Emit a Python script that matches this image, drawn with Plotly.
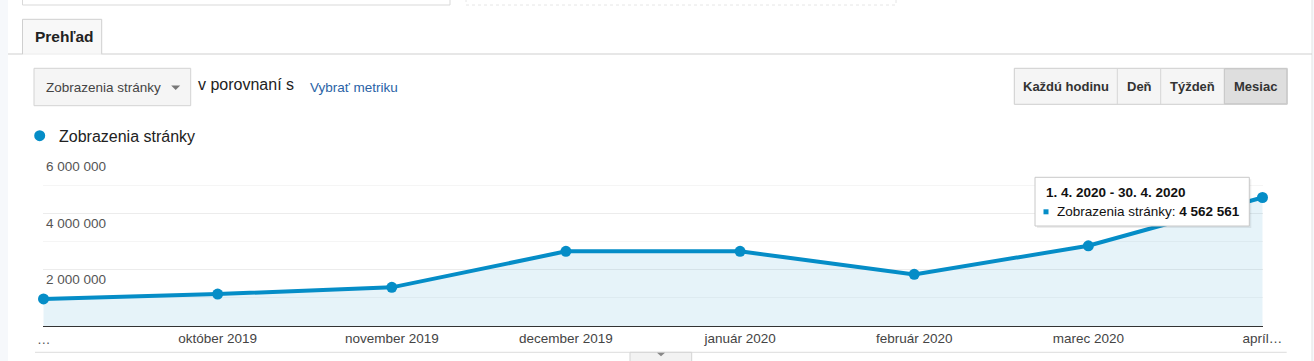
import plotly.graph_objects as go

# ---------------- data ----------------
months = ["september 2019", "október 2019", "november 2019", "december 2019",
          "január 2020", "február 2020", "marec 2020", "apríl 2020"]
month_labels = ["…", "október 2019", "november 2019", "december 2019",
                "január 2020", "február 2020", "marec 2020", "apríl…"]
pageviews = [960000, 1135000, 1372000, 2650000, 2652000, 1833000, 2848000, 4562561]
y_ticks = [2000000, 4000000, 6000000]
series_name = "Zobrazenia stránky"
tooltip_range = "1. 4. 2020 - 30. 4. 2020"

# ---------------- layout geometry (pixels) ----------------
W, H = 1314, 361
L, R, T, B = 43, 1263, 157, 326
BLUE = "#058DC7"
FONT = "Liberation Sans, Arial, sans-serif"
PAD = 0.003  # tiny category padding so edge tick labels are kept


def X(p):
    return (p - L) / (R - L)


def Y(p):
    return (B - p) / (B - T)


fig = go.Figure()
fig.add_trace(go.Scatter(
    x=months, y=pageviews, mode="lines+markers",
    line=dict(color=BLUE, width=4),
    marker=dict(color=BLUE, size=11),
    fill="tozeroy", fillcolor="rgba(5,141,199,0.10)",
    cliponaxis=False, showlegend=False, hoverinfo="skip",
))

shapes = []
annotations = []


def rect(x0, y0, x1, y1, fill="white", line="#ccc", width=1, dash="solid", layer="below"):
    shapes.append(dict(type="rect", xref="paper", yref="paper",
                       x0=X(x0), x1=X(x1), y0=Y(y0), y1=Y(y1),
                       fillcolor=fill, line=dict(color=line, width=width, dash=dash),
                       layer=layer))


def hline(x0, x1, y, color="#ccc", width=1, layer="below"):
    shapes.append(dict(type="line", xref="paper", yref="paper",
                       x0=X(x0), x1=X(x1), y0=Y(y), y1=Y(y),
                       line=dict(color=color, width=width), layer=layer))


def vline(x, y0, y1, color="#ccc", width=1, layer="below"):
    shapes.append(dict(type="line", xref="paper", yref="paper",
                       x0=X(x), x1=X(x), y0=Y(y0), y1=Y(y1),
                       line=dict(color=color, width=width), layer=layer))


def tri(cx, cy, w, h, color="#777"):
    path = "M {} {} L {} {} L {} {} Z".format(
        X(cx - w / 2), Y(cy - h / 2), X(cx + w / 2), Y(cy - h / 2), X(cx), Y(cy + h / 2))
    shapes.append(dict(type="path", xref="paper", yref="paper", path=path,
                       fillcolor=color, line=dict(width=0), layer="above"))


def text(t, x, y, size, color="#222", xanchor="left", bold=False):
    if bold:
        t = "<b>" + t + "</b>"
    annotations.append(dict(text=t, x=X(x), y=Y(y), xref="paper", yref="paper",
                            xanchor=xanchor, yanchor="middle", showarrow=False,
                            font=dict(family=FONT, size=size, color=color)))


# page background strips
rect(-10, -5, 8, 370, fill="#f6f8fb", line="#f6f8fb", width=0)
rect(1312, -5, 1320, 370, fill="#f6f8fb", line="#f6f8fb", width=0)
vline(1312, -5, 370, color="#e3e3e3")

# top inputs (cut off)
rect(22.5, -8, 450, 5, fill="white", line="#d9d9d9")
rect(466, -8, 896, 5, fill="white", line="#e6e6e6", dash="dot")

# tab
hline(8, 22.5, 54, color="#cfcfcf")
hline(101.7, 1312, 54, color="#cfcfcf")
rect(22.5, 19.3, 101.7, 54, fill="#f8f8f8", line="#cfcfcf")
hline(23, 101.2, 54, color="#f8f8f8", width=1.5)
text("Prehľad", 33, 36.5, 15.5, color="#222", bold=True)

# metric dropdown
rect(34, 68.3, 190.7, 105.7, fill="#f5f5f5", line="#d3d3d3")
text("Zobrazenia stránky", 43.5, 87.3, 13.5, color="#444")
tri(175.7, 87.8, 9, 4.5, color="#777")
text("v porovnaní s", 196, 84.5, 16, color="#222")
text("Vybrať metriku", 307.5, 87.3, 13.5, color="#2a63a6")

# granularity buttons
rect(1014.3, 68.3, 1287.3, 104.3, fill="#f5f5f5", line="#cdcdcd")
rect(1224.3, 68.8, 1286.8, 103.8, fill="#dedede", line="#c4c4c4")
vline(1117.3, 68.3, 104.3, color="#d6d6d6")
vline(1160.7, 68.3, 104.3, color="#d6d6d6")
btns = [("Každú hodinu", 1065.8), ("Deň", 1139), ("Týždeň", 1192.5), ("Mesiac", 1255.8)]
for label, cx in btns:
    text(label, cx, 86.3, 13, color="#333", xanchor="center", bold=True)

# legend
shapes.append(dict(type="circle", xref="paper", yref="paper",
                   x0=X(34.2), x1=X(45.2), y0=Y(130.2), y1=Y(141.2),
                   fillcolor=BLUE, line=dict(width=0), layer="above"))
text(series_name, 56.5, 136, 16, color="#222")

# first (truncated) month label, placed at its category position
annotations.append(dict(text=month_labels[0], x=months[0], xref="x", y=Y(339), yref="paper",
                        xanchor="center", yanchor="middle", showarrow=False,
                        font=dict(family=FONT, size=13.5, color="#555")))

# bottom separators
hline(35, 1286.7, 352.3, color="#dcdcdc")
rect(630, 352.3, 691.7, 368, fill="#f2f2f2", line="#d3d3d3")
tri(661, 354.5, 8, 3.6, color="#888")

# tooltip
rect(1037, 179.3, 1251.3, 228, fill="rgba(0,0,0,0.07)", line="rgba(0,0,0,0)", width=0, layer="above")
rect(1035, 177.3, 1249.3, 226, fill="white", line="#c8c8c8", layer="above")
text(tooltip_range, 1043.5, 192.7, 13.5, color="#111", bold=True)
rect(1043.5, 209.3, 1048.5, 214.3, fill=BLUE, line=BLUE, width=0, layer="above")
value_txt = "{:,}".format(pageviews[-1]).replace(",", " ")
text(series_name + ": <b>" + value_txt + "</b>", 1054.5, 211.7, 13.5, color="#111")

fig.update_layout(
    width=W, height=H,
    margin=dict(l=L, r=W - R, t=T, b=H - B, pad=0),
    paper_bgcolor="white", plot_bgcolor="rgba(0,0,0,0)",
    separators=", ",
    font=dict(family=FONT, size=13.5, color="#444"),
    shapes=shapes, annotations=annotations,
    xaxis=dict(type="category", range=[-PAD, len(months) - 1 + PAD],
               tickvals=months[1:], ticktext=month_labels[1:],
               ticklabeloverflow="allow",
               showgrid=False, zeroline=False,
               showline=True, linecolor="#333", linewidth=1,
               ticks="", tickfont=dict(family=FONT, size=13.5, color="#444"),
               fixedrange=True),
    yaxis=dict(range=[0, 6000000], tickvals=y_ticks, tickformat=",d",
               ticklabelposition="inside bottom",
               tickfont=dict(family=FONT, size=13.5, color="#555"),
               showgrid=True, gridcolor="#ececec", gridwidth=1,
               minor=dict(dtick=1000000, tick0=0, showgrid=True, gridcolor="#f5f5f5"),
               zeroline=False, showline=False, ticks="", fixedrange=True),
    hovermode=False,
)

fig.write_html("out.html", config={"displayModeBar": False},
               post_script="document.body.style.margin='0';document.body.style.overflow='hidden';")
